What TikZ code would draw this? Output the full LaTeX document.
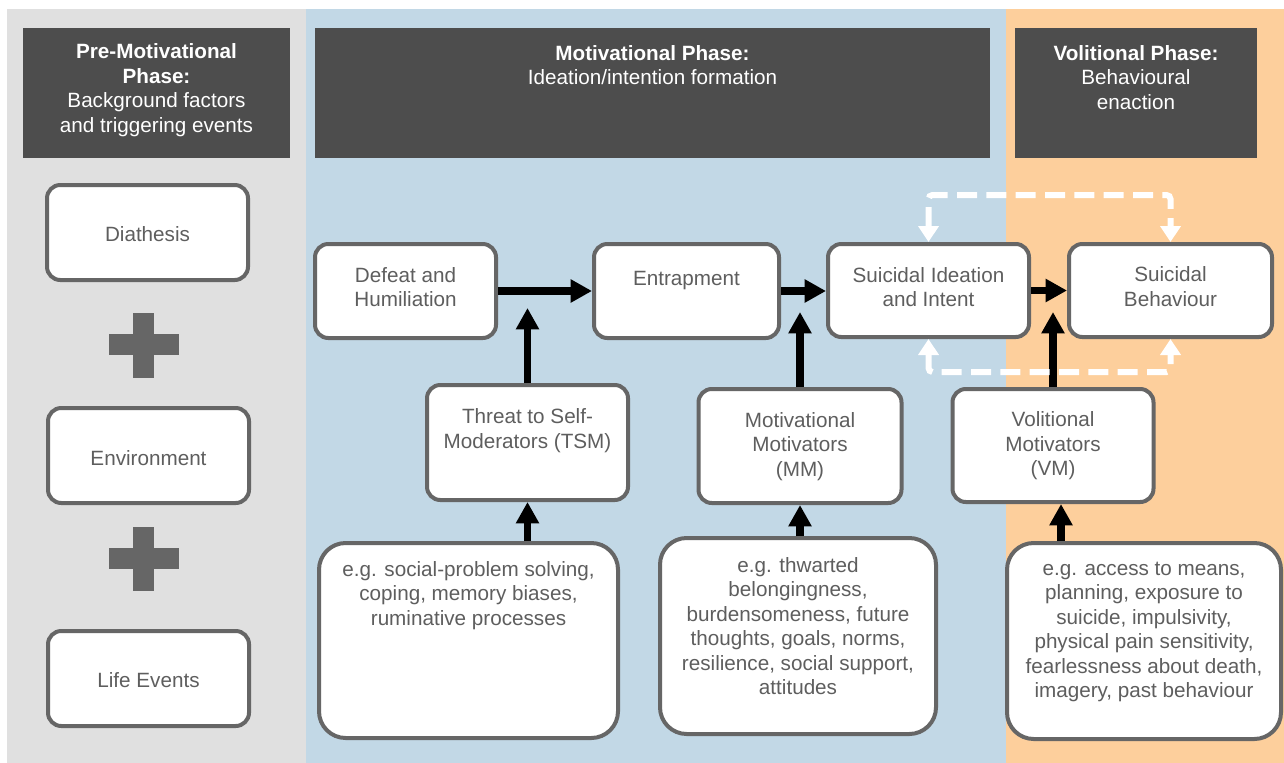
\documentclass[tikz,border=0pt]{standalone}
\usepackage{fontspec}
\setmainfont{Liberation Sans}
\usetikzlibrary{arrows.meta}
\definecolor{gpanel}{HTML}{E0E0E0}
\definecolor{bpanel}{HTML}{C2D8E6}
\definecolor{opanel}{HTML}{FDCF9C}
\definecolor{hdr}{HTML}{4D4D4D}
\definecolor{bord}{HTML}{666666}
\definecolor{txtc}{HTML}{5E5E5E}
\begin{document}
\begin{tikzpicture}[x=0.75pt,y=-0.75pt,
  box/.style={draw=bord, line width=3pt, fill=white, rounded corners=10pt, inner sep=0pt},
  bigbox/.style={box, rounded corners=20pt},
  hdrbox/.style={fill=hdr, inner sep=0pt},
  lbl/.style={text=txtc, align=center, inner sep=0pt, font=\fontsize{15.5}{18.4}\selectfont},
  hlbl/.style={text=white, align=center, inner sep=0pt, font=\fontsize{15.5}{18.4}\selectfont},
  arr/.style={line width=5.6pt, -{Triangle[width=16.5pt,length=16pt]}},
  wdash/.style={white, line width=4.5pt, dash pattern=on 15pt off 7pt, rounded corners=3pt,
    {Triangle[width=15pt,length=12pt]}-{Triangle[width=15pt,length=12pt]}}
]
\useasboundingbox (0,0) rectangle (1284,763);
\fill[white] (0,0) rectangle (1284,763);
% panels
\fill[gpanel] (7,9) rectangle (306,763);
\fill[bpanel] (306,9) rectangle (1006,763);
\fill[opanel] (1006,9) rectangle (1284,763);

% headers
\node[hdrbox, minimum width=267*0.75pt, minimum height=130*0.75pt] (H1) at (156.5,93) {};
\node[hdrbox, minimum width=675*0.75pt, minimum height=130*0.75pt] (H2) at (652.5,93) {};
\node[hdrbox, minimum width=242*0.75pt, minimum height=130*0.75pt] (H3) at (1136,93) {};
\node[hlbl] (H1t) at (156.5,90) {\textbf{Pre-Motivational}\\\textbf{Phase:}\\Background factors\\and triggering events};
\node[hlbl] (H2t) at (652.5,65) {\textbf{Motivational Phase:}\\Ideation/intention formation};
\node[hlbl] (H3t) at (1136,77.5) {\textbf{Volitional Phase:}\\Behavioural\\enaction};

% left column
\node[box, minimum width=201*0.75pt, minimum height=95*0.75pt] (D) at (147.5,232.5) {};
\node[lbl] (Dt) at (147.5,234) {Diathesis};
\node[box, minimum width=201*0.75pt, minimum height=95*0.75pt] (E) at (148.5,455.5) {};
\node[lbl] (Et) at (148.5,458) {Environment};
\node[box, minimum width=201*0.75pt, minimum height=95*0.75pt] (L) at (148.5,678.5) {};
\node[lbl] (Lt) at (148.5,680) {Life Events};
\fill[bord] (133,313) rectangle (154,378);
\fill[bord] (109,334) rectangle (179,355);
\fill[bord] (133,527) rectangle (154,591);
\fill[bord] (109,548) rectangle (179,569);

% main row
\node[box, minimum width=181*0.75pt, minimum height=94*0.75pt] (DH) at (405.5,291) {};
\node[lbl] (DHt) at (405.5,287) {Defeat and\\Humiliation};
\node[box, minimum width=185*0.75pt, minimum height=94*0.75pt] (EN) at (686.5,291) {};
\node[lbl] (ENt) at (686.5,281) {Entrapment};
\node[box, minimum width=201*0.75pt, minimum height=93*0.75pt] (SI) at (928.5,290.5) {};
\node[lbl] (SIt) at (928.5,287) {Suicidal Ideation\\and Intent};
\node[box, minimum width=203*0.75pt, minimum height=93*0.75pt] (SB) at (1170.5,290.5) {};
\node[lbl] (SBt) at (1170.5,286.5) {Suicidal\\Behaviour};

% moderators
\node[box, minimum width=201*0.75pt, minimum height=115*0.75pt] (TSM) at (527.5,442.5) {};
\node[lbl] (TSMt) at (527.5,430.5) {Threat to Self-\\Moderators (TSM)};
\node[box, minimum width=203*0.75pt, minimum height=114*0.75pt] (MM) at (800,446) {};
\node[lbl] (MMt) at (800,446.5) {Motivational\\Motivators\\(MM)};
\node[box, minimum width=201*0.75pt, minimum height=113*0.75pt] (VM) at (1053,445.5) {};
\node[lbl] (VMt) at (1053,446) {Volitional\\Motivators\\(VM)};

% example boxes
\node[bigbox, minimum width=299*0.75pt, minimum height=195*0.75pt] (ET) at (468.5,640.5) {};
\node[lbl] (ETt) at (468.5,595.5) {e.g. social-problem solving,\\coping, memory biases,\\ruminative processes};
\node[bigbox, minimum width=276*0.75pt, minimum height=196*0.75pt] (EM) at (798,636) {};
\node[lbl] (EMt) at (798,626) {e.g. thwarted\\belongingness,\\burdensomeness, future\\thoughts, goals, norms,\\resilience, social support,\\attitudes};
\node[bigbox, minimum width=274*0.75pt, minimum height=196*0.75pt] (EV) at (1144,641) {};
\node[lbl] (EVt) at (1144,632) {e.g. access to means,\\planning, exposure to\\suicide, impulsivity,\\physical pain sensitivity,\\fearlessness about death,\\imagery, past behaviour};

% junction points on horizontal arrows
\coordinate (J1) at (527.5,308);
\coordinate (J2) at (800,312);
\coordinate (J3) at (1053,312);

% black arrows
\draw[arr] (DH.east) -- (EN.west);
\draw[arr] (EN.east) -- (SI.west |- EN.east);
\draw[arr] (SI.east) -- (SB.west);
\draw[arr] (TSM.north) -- (J1);
\draw[arr] (MM.north) -- (J2);
\draw[arr] (VM.north) -- (J3);
\draw[arr] (TSM.south |- ET.north) -- (TSM.south);
\draw[arr] (MM.south |- EM.north) -- (MM.south);
\draw[arr] ([xshift=6pt]VM.south |- EV.north) -- ([xshift=6pt]VM.south);

% white dashed feedback arrows
\draw[wdash] (SI.north) -- ++(0,-47) -| (SB.north);
\draw[wdash] (SI.south) -- ++(0,33) -| (SB.south);
\end{tikzpicture}
\end{document}
